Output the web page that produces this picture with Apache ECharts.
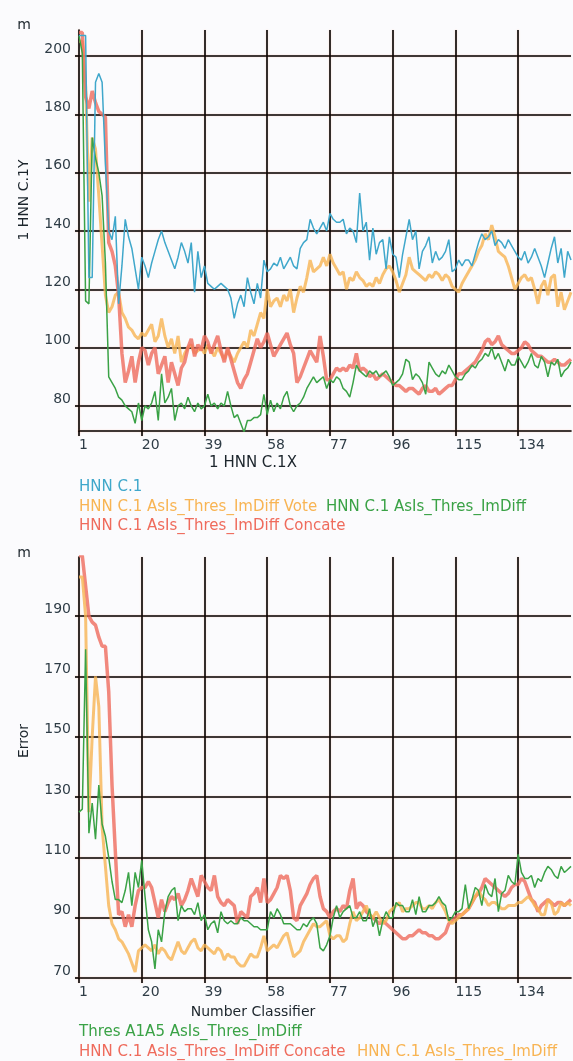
<!DOCTYPE html>
<html>
<head>
<meta charset="utf-8">
<title>HNN C.1</title>
<script src="https://cdn.jsdelivr.net/npm/echarts@6/dist/echarts.min.js"></script>
<style>
  html, body { margin: 0; padding: 0; background: #fbfbfd; }
  #chart { width: 573px; height: 1061px; }
</style>
</head>
<body>
<div id="chart"></div>
<script>
// upper panel, x = 1..150
var topHnn = [
  207, 207, 207, 124, 124, 191, 194, 191, 163, 140,
  137, 145, 115, 128, 144, 138, 134, 127, 120, 131,
  128, 124, 129, 133, 137, 140, 136, 133, 130, 127,
  131, 136, 133, 129, 136, 119, 133, 124, 128, 122,
  121, 120, 121, 122, 121, 120, 117, 110, 115, 118,
  114, 124, 119, 115, 122, 117, 130, 126, 127, 129,
  128, 131, 127, 129, 131, 128, 127, 134, 136, 137,
  144, 141, 139, 141, 143, 140, 146, 144, 143, 143,
  144, 139, 141, 140, 136, 153, 140, 143, 130, 141,
  132, 136, 137, 127, 138, 132, 131, 124, 132, 138,
  144, 137, 140, 127, 133, 135, 138, 129, 133, 130,
  131, 133, 137, 126, 127, 130, 128, 130, 130, 128,
  132, 136, 139, 137, 138, 140, 135, 137, 136, 134,
  137, 135, 133, 131, 130, 133, 129, 131, 134, 131,
  128, 124, 129, 134, 138, 129, 134, 124, 133, 130
]
var topVote = [
  205, 205, 190, 150, 172, 168, 152, 135, 118, 112,
  114, 118, 119, 112, 110, 107, 106, 104, 103, 105,
  104, 106, 108, 102, 104, 110, 104, 100, 103, 98,
  104, 95, 98, 100, 101, 98, 99, 100, 98, 101,
  99, 97, 100, 98, 96, 99, 97, 95, 98, 100,
  102, 100, 106, 104, 108, 112, 110, 120, 114, 116,
  117, 114, 118, 116, 120, 112, 117, 121, 119, 124,
  130, 126, 127, 128, 131, 128, 132, 129, 127, 125,
  126, 120, 124, 123, 126, 124, 123, 121, 122, 121,
  124, 122, 125, 127, 128, 126, 123, 119, 122, 125,
  131, 127, 126, 125, 124, 123, 125, 124, 126, 125,
  123, 125, 124, 121, 120, 119, 122, 124, 126, 128,
  130, 133, 135, 139, 137, 142, 138, 133, 132, 131,
  128, 124, 120, 122, 124, 125, 123, 124, 120, 115,
  121, 123, 118, 124, 125, 114, 119, 113, 116, 119
]
var topConcate = [
  208, 208, 186, 182, 188, 184, 181, 180, 179, 136,
  133, 128, 118, 98, 88, 92, 97, 88, 95, 100,
  99, 94, 98, 100, 91, 94, 97, 88, 95, 91,
  87, 93, 95, 100, 103, 97, 101, 99, 104, 102,
  98, 101, 104, 99, 95, 100, 96, 92, 88, 86,
  89, 91, 95, 99, 103, 100, 102, 105, 101, 97,
  99, 101, 103, 105, 101, 98, 88, 90, 93, 96,
  99, 97, 95, 104, 97, 89, 89, 91, 93, 92,
  93, 92, 94, 93, 98, 92, 93, 92, 90, 91,
  89, 90, 91, 90, 89, 88, 87, 87, 86, 85,
  86, 86, 85, 84, 86, 87, 85, 85, 86, 84,
  85, 86, 87, 87, 89, 91, 91, 92, 93, 94,
  95, 97, 99, 102, 103, 101, 102, 104, 101, 100,
  99, 98, 98, 99, 100, 102, 101, 99, 98, 97,
  97, 96, 95, 95, 96, 95, 94, 94, 95, 96
]
var topImDiff = [
  207, 201, 116, 115, 172, 165, 160, 152, 129, 90,
  88, 86, 83, 82, 80, 79, 78, 74, 81, 75,
  80, 79, 81, 85, 75, 91, 81, 83, 86, 75,
  80, 81, 79, 83, 80, 78, 81, 79, 80, 84,
  80, 81, 79, 81, 80, 85, 80, 76, 77, 74,
  71, 75, 75, 76, 76, 77, 84, 77, 82, 78,
  81, 79, 83, 85, 80, 78, 80, 81, 83, 86,
  88, 90, 88, 89, 90, 86, 89, 88, 90, 89,
  86, 85, 83, 88, 94, 92, 91, 90, 92, 91,
  92, 90, 91, 92, 90, 87, 88, 89, 91, 96,
  95, 89, 91, 90, 88, 84, 95, 93, 91, 90,
  92, 91, 94, 92, 90, 89, 89, 91, 92, 94,
  93, 95, 96, 98, 97, 100, 96, 98, 95, 92,
  96, 94, 94, 97, 95, 93, 95, 98, 94, 93,
  97, 95, 90, 95, 94, 96, 90, 92, 93, 95
]

// lower panel, x = 1..150
var botThres = [
  125, 126, 179, 118, 128, 116, 134, 121, 117, 110,
  102, 96, 96, 95, 99, 105, 94, 105, 100, 109,
  97, 86, 82, 73, 86, 82, 92, 97, 99, 100,
  89, 94, 92, 93, 93, 91, 95, 89, 91, 86,
  88, 89, 85, 92, 89, 88, 89, 88, 88, 90,
  89, 89, 88, 87, 87, 86, 86, 86, 92, 90,
  93, 91, 88, 88, 88, 87, 86, 86, 88, 87,
  89, 90, 88, 80, 79, 81, 84, 90, 94, 90,
  92, 93, 94, 90, 90, 92, 89, 89, 93, 87,
  90, 84, 89, 92, 90, 90, 95, 94, 94, 92,
  92, 96, 91, 97, 92, 92, 94, 94, 95, 97,
  95, 94, 89, 90, 92, 92, 93, 101, 93, 96,
  100, 99, 94, 101, 98, 97, 103, 92, 98, 99,
  104, 102, 101, 111, 105, 103, 103, 104, 100, 103,
  102, 105, 107, 106, 104, 103, 107, 105, 106, 107
]
var botConcate = [
  210, 210, 200, 190, 188, 187, 183, 180, 180, 165,
  134, 112, 91, 92, 87, 91, 87, 94, 99, 100,
  100, 102, 100, 95, 90, 96, 92, 95, 97, 96,
  98, 94, 96, 99, 103, 100, 97, 104, 102, 100,
  99, 104, 97, 95, 94, 96, 95, 94, 88, 92,
  91, 90, 97, 98, 100, 95, 103, 95, 96, 98,
  100, 104, 103, 104, 99, 90, 89, 94, 96, 98,
  101, 103, 104, 97, 93, 92, 90, 92, 93, 92,
  94, 93, 99, 103, 93, 95, 94, 92, 91, 90,
  89, 88, 89, 88, 87, 86, 85, 84, 83, 83,
  84, 84, 85, 86, 85, 85, 84, 84, 83, 83,
  84, 85, 88, 89, 90, 91, 91, 92, 93, 95,
  97, 98, 100, 103, 102, 101, 100, 99, 98, 97,
  98, 100, 101, 101, 103, 102, 99, 96, 95, 92,
  94, 95, 96, 95, 94, 95, 95, 94, 95, 96
]
var botImDiff = [
  203, 203, 190, 125, 150, 170, 160, 120, 107, 94,
  88, 86, 83, 82, 80, 78, 75, 72, 79, 80,
  81, 80, 79, 81, 78, 80, 79, 77, 76, 79,
  82, 79, 78, 80, 82, 83, 80, 79, 81, 80,
  79, 78, 80, 79, 76, 78, 77, 77, 75, 74,
  74, 76, 78, 77, 77, 80, 84, 79, 80, 81,
  80, 82, 84, 85, 81, 77, 78, 79, 82, 84,
  86, 88, 87, 87, 88, 89, 84, 83, 84, 84,
  82, 83, 88, 92, 89, 90, 92, 94, 91, 90,
  92, 90, 88, 89, 92, 93, 94, 95, 92, 93,
  93, 94, 95, 95, 93, 93, 94, 93, 95, 96,
  94, 92, 89, 88, 89, 90, 91, 92, 93, 95,
  97, 99, 97, 96, 94, 95, 95, 94, 93, 93,
  94, 94, 94, 95, 95, 96, 97, 96, 94, 93,
  91, 91, 96, 95, 91, 92, 95, 94, 95, 94
]

var BLUE = '#3fa7cb'
var ORANGE = '#f8b453'
var GREEN = '#3aa246'
var RED = '#ef6b5c'

var chart = echarts.init(document.getElementById('chart'))

function pts(arr) {
  return arr.map(function(v, i) { return [i + 1, v] })
}

// black grid lines with a thin orange halo, as in the original
var gridLine = { color: '#000', width: 1.6, shadowColor: 'rgba(255,120,70,0.4)', shadowBlur: 1.5 }
var labelColor = '#2e3c46'
var font = 'DejaVu Sans'

function xAxisOf(idx) {
  return {
    type: 'value', gridIndex: idx, min: 1, max: 150, interval: 19,
    axisLine: { lineStyle: gridLine },
    axisTick: { length: 5, lineStyle: gridLine },
    axisLabel: { color: labelColor, fontSize: 14, fontFamily: font, align: 'left', margin: 7, showMaxLabel: false },
    splitLine: { show: true, showMinLine: false, showMaxLine: false, lineStyle: gridLine }
  }
}

function yAxisOf(idx, extra) {
  var ax = {
    type: 'value', gridIndex: idx,
    axisLine: { show: true, lineStyle: gridLine },
    axisTick: { show: true, length: 4, lineStyle: gridLine },
    axisLabel: { color: labelColor, fontSize: 14, fontFamily: font, margin: 8, verticalAlign: 'bottom', showMaxLabel: false },
    splitLine: { show: true, showMinLine: false, showMaxLine: false, lineStyle: gridLine }
  }
  return Object.assign(ax, extra)
}

function line(name, data, color, width, g, opacity) {
  return {
    name: name, type: 'line', xAxisIndex: g, yAxisIndex: g,
    data: pts(data), showSymbol: false, symbol: 'none',
    lineStyle: { color: color, width: width, opacity: opacity || 1 },
    itemStyle: { color: color }
  }
}

var legendBase = {
  icon: 'none', itemWidth: 0, itemHeight: 14, itemGap: 0, padding: 0,
  selectedMode: false, orient: 'horizontal'
}
function legendItem(name, color, left, cy) {
  return Object.assign({}, legendBase, {
    data: [name], left: left - 5, top: cy - 7,
    textStyle: { color: color, fontSize: 15, fontFamily: font }
  })
}

function txt(x, y, s, size, rot) {
  return {
    type: 'text', x: x, y: y, rotation: rot || 0,
    style: { text: s, fill: '#1c252c', font: size + 'px "DejaVu Sans"', align: 'center', verticalAlign: 'middle' }
  }
}

chart.setOption({
  animation: false,
  backgroundColor: '#fbfbfd',
  grid: [
    { left: 79, top: 30, width: 492, height: 401 },
    { left: 79, top: 557, width: 492, height: 421 }
  ],
  xAxis: [xAxisOf(0), xAxisOf(1)],
  yAxis: [
    yAxisOf(0, { min: 71.4, max: 208.9, splitNumber: 7, axisLabel: { color: labelColor, fontSize: 14, fontFamily: font, margin: 8, verticalAlign: 'bottom', showMinLabel: false, showMaxLabel: false } }),
    yAxisOf(1, { min: 70, max: 209.6, interval: 20 })
  ],
  legend: [
    legendItem('HNN C.1', BLUE, 79, 487),
    legendItem('HNN C.1 AsIs_Thres_ImDiff Vote', ORANGE, 79, 507),
    legendItem('HNN C.1 AsIs_Thres_ImDiff', GREEN, 326, 507),
    legendItem('HNN C.1 AsIs_Thres_ImDiff Concate', RED, 79, 526),
    legendItem('Thres A1A5 AsIs_Thres_ImDiff', GREEN, 79, 1032),
    legendItem('HNN C.1 AsIs_Thres_ImDiff Concate', RED, 79, 1052),
    legendItem('HNN C.1 AsIs_Thres_ImDiff', ORANGE, 357, 1052)
  ],
  graphic: [
    txt(24, 25, 'm', 14),
    txt(24, 200, '1 HNN C.1Y', 14, Math.PI / 2),
    txt(253, 463, '1 HNN C.1X', 15),
    txt(24, 553, 'm', 14),
    txt(24, 741, 'Error', 14, Math.PI / 2),
    txt(253, 1012, 'Number Classifier', 14)
  ],
  series: [
    line('HNN C.1 AsIs_Thres_ImDiff Vote', topVote, ORANGE, 3, 0, 0.8),
    line('HNN C.1 AsIs_Thres_ImDiff Concate', topConcate, RED, 3.5, 0, 0.8),
    line('HNN C.1 AsIs_Thres_ImDiff', topImDiff, GREEN, 1.5, 0),
    line('HNN C.1', topHnn, BLUE, 1.5, 0),
    line('HNN C.1 AsIs_Thres_ImDiff Concate', botConcate, RED, 3.5, 1, 0.8),
    line('HNN C.1 AsIs_Thres_ImDiff', botImDiff, ORANGE, 3, 1, 0.8),
    line('Thres A1A5 AsIs_Thres_ImDiff', botThres, GREEN, 1.5, 1)
  ]
})
</script>
</body>
</html>
